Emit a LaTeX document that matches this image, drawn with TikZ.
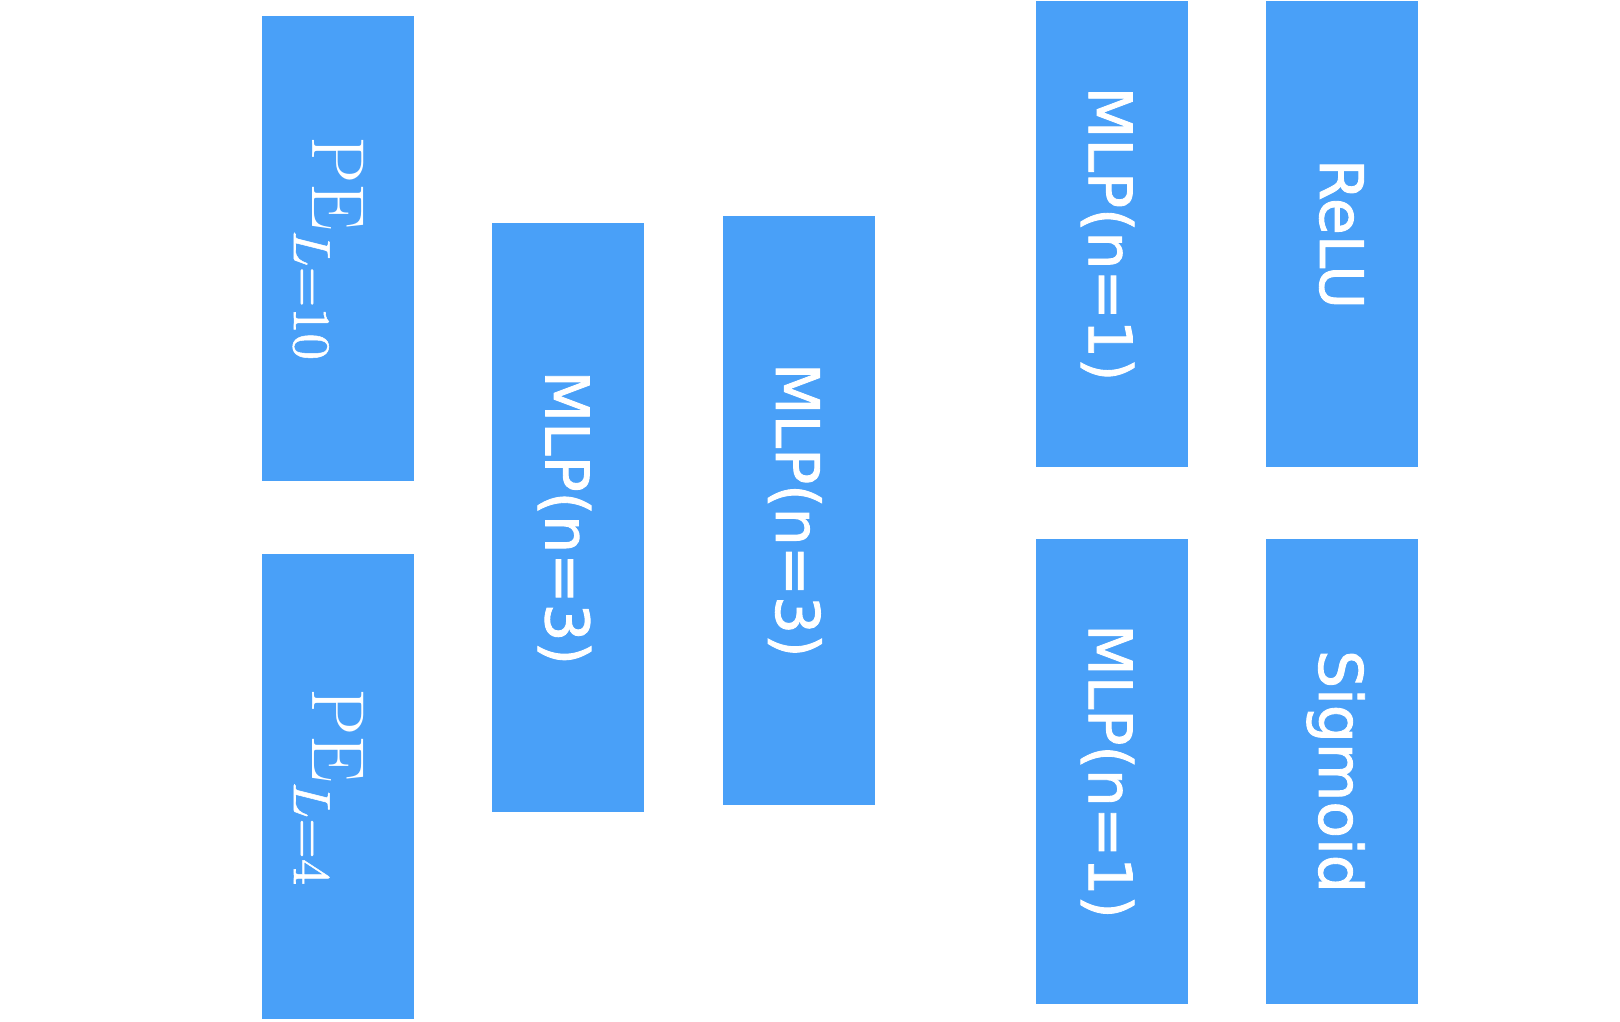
\documentclass[tikz,border=0pt]{standalone}
\usepackage{amsmath}
\usepackage{fontspec}
\usepackage{unicode-math}
\setmathfont{Latin Modern Math}[FakeBold=1]
\newfontfamily\mlpfont{DejaVu Sans}[FakeBold=1.5]
\usepackage{tikz}
\usetikzlibrary{calc,positioning}

\definecolor{boxblue}{RGB}{73,160,248}

% rotated label, centred on its height only
\newcommand{\vtext}[1]{\rotatebox{-90}{\raisebox{0pt}[\height][0pt]{#1}}}

\tikzset{
    block/.style={fill=boxblue, draw=none, text=white, inner sep=0pt,
        minimum width=152pt, minimum height=465pt},
    tall/.style={minimum height=589pt},
    mlptext/.style={font=\mlpfont\fontsize{60}{72}\selectfont},
    petext/.style={font=\fontsize{75}{90}\selectfont}
}

\begin{document}
\begin{tikzpicture}[node distance=78pt]
    	\useasboundingbox (0,0) rectangle (1620pt,-1022pt);
    	\node[block, petext] (pe10) at (338pt,-248.5pt) {\vtext{$\mathrm{PE}_{L=10}$}};
    	\node[block, petext, below=73pt of pe10] (pe4) {\vtext{$\mathrm{PE}_{L=4}$}};
    	\coordinate (pemid) at ($(pe10.east)!0.5!(pe4.east)$);
    	
    	\node[block, tall, mlptext, right=of pemid] (mlpa) {\vtext{MLP(n=3)}};
    	\node[block, tall, mlptext, right=of mlpa, yshift=7.5pt] (mlpb) {\vtext{MLP(n=3)}};
    	
    	\node[block, mlptext] (mlpc) at (1111.5pt,-234pt) {\vtext{MLP(n=1)}};
    	\node[block, mlptext, below=72pt of mlpc] (mlpd) {\vtext{MLP(n=1)}};
    	\node[block, mlptext, right=of mlpc] (relu) {\vtext{ReLU}};
    	\node[block, mlptext, right=of mlpd] (sigm) {\vtext{Sigmoid}};
    \end{tikzpicture}
\end{document}
